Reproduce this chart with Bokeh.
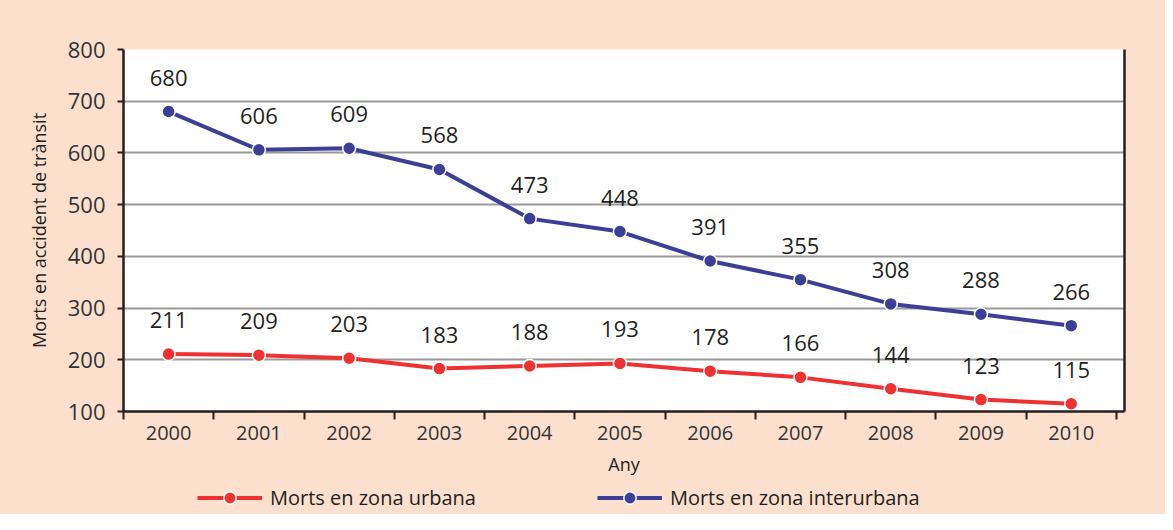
from bokeh.plotting import figure
from bokeh.layouts import column
from bokeh.models import (ColumnDataSource, FixedTicker, LinearAxis, Range1d,
                          Legend, LegendItem)
from bokeh.core.properties import value
from bokeh.embed import file_html
from bokeh.resources import INLINE

years = ["2000", "2001", "2002", "2003", "2004", "2005",
         "2006", "2007", "2008", "2009", "2010"]
urbana = [211, 209, 203, 183, 188, 193, 178, 166, 144, 123, 115]
interurbana = [680, 606, 609, 568, 473, 448, 391, 355, 308, 288, 266]
y_ticks = [100, 200, 300, 400, 500, 600, 700, 800]
series_names = ["Morts en zona urbana", "Morts en zona interurbana"]

FONT = "Open Sans"
DARK = "#231F20"
PEACH = "#FDDFCD"
RED = "#EE3131"
BLUE = "#3D3F97"

xs = list(range(len(years)))

MAIN_H = 481
p = figure(width=1165, height=MAIN_H,
           x_range=Range1d(-0.5, 10.59), y_range=Range1d(100, 800),
           output_backend="svg", toolbar_location=None,
           background_fill_color="white", border_fill_color=PEACH,
           min_border_left=123, min_border_right=41,
           min_border_top=49, min_border_bottom=MAIN_H - 411)
p.outline_line_color = None

# x axis: labels at category centres, ticks at boundaries
xa = p.xaxis[0]
xa.ticker = FixedTicker(ticks=xs, minor_ticks=[i - 0.5 for i in range(len(years) + 1)])
xa.major_label_overrides = {i: y for i, y in enumerate(years)}
xa.major_tick_in = 0
xa.major_tick_out = 0
xa.minor_tick_in = 0
xa.minor_tick_out = 8
xa.minor_tick_line_color = DARK
xa.minor_tick_line_width = 2
xa.axis_line_color = DARK
xa.axis_line_width = 2.5
xa.major_label_standoff = 6
xa.major_label_text_font = FONT
xa.major_label_text_font_size = "20px"
xa.major_label_text_color = "#333333"
xa.axis_label = "Any"
xa.axis_label_text_font = FONT
xa.axis_label_text_font_size = "18px"
xa.axis_label_text_font_style = "normal"
xa.axis_label_text_color = DARK
xa.axis_label_standoff = 9

ya = p.yaxis[0]
ya.ticker = FixedTicker(ticks=y_ticks)
ya.major_tick_in = 0
ya.major_tick_out = 6
ya.major_tick_line_color = DARK
ya.major_tick_line_width = 2
ya.minor_tick_line_color = None
ya.axis_line_color = DARK
ya.axis_line_width = 2.5
ya.major_label_standoff = 12
ya.major_label_text_font = FONT
ya.major_label_text_font_size = "22px"
ya.major_label_text_color = "#333333"
ya.axis_label = "Morts en accident de trànsit"
ya.axis_label_text_font = FONT
ya.axis_label_text_font_size = "18px"
ya.axis_label_text_font_style = "normal"
ya.axis_label_text_color = DARK
ya.axis_label_standoff = 14

right = LinearAxis(ticker=FixedTicker(ticks=[]), major_tick_line_color=None,
                   minor_tick_line_color=None, major_label_text_font_size="0px",
                   axis_line_color=DARK, axis_line_width=2.5)
p.add_layout(right, "right")

p.xgrid.visible = False
p.ygrid.ticker = FixedTicker(ticks=[200, 300, 400, 500, 600, 700])
p.ygrid.grid_line_color = "#999999"
p.ygrid.grid_line_width = 2

src_u = ColumnDataSource(dict(x=xs, y=urbana, label=[str(v) for v in urbana]))
src_i = ColumnDataSource(dict(x=xs, y=interurbana, label=[str(v) for v in interurbana]))

line_style = dict(line_width=4)
mark_style = dict(size=13, line_color="white", line_width=1.5)

p.line("x", "y", source=src_u, line_color=RED, **line_style)
p.scatter("x", "y", source=src_u, fill_color=RED, **mark_style)
p.line("x", "y", source=src_i, line_color=BLUE, **line_style)
p.scatter("x", "y", source=src_i, fill_color=BLUE, **mark_style)

for src in (src_u, src_i):
    p.text("x", "y", text="label", source=src, y_offset=-34,
           text_align="center", text_baseline="middle",
           text_font=value(FONT), text_font_size="22px", text_color=DARK)

# legend strip below the chart (its renderers fall outside its own ranges,
# so only the legend itself is visible)
LEG_H = 514 - MAIN_H
lf = figure(width=1165, height=LEG_H, x_range=Range1d(-0.5, 10.59),
            y_range=Range1d(-2, -1),
            output_backend="svg", toolbar_location=None,
            x_axis_location=None, y_axis_location=None,
            background_fill_alpha=0, border_fill_alpha=0,
            min_border=0)
lf.outline_line_color = None
lf.grid.visible = False
items = []
for name, src, col in zip(series_names, (src_u, src_i), (RED, BLUE)):
    r1 = lf.line("x", "y", source=src, line_color=col, **line_style)
    r2 = lf.scatter("x", "y", source=src, fill_color=col, **mark_style)
    items.append(LegendItem(label=name, renderers=[r1, r2]))

legend = Legend(items=items, location=(74, 1), orientation="horizontal", spacing=121,
                background_fill_alpha=0, border_line_color=None,
                padding=0, margin=0, glyph_width=65, glyph_height=31,
                label_height=31, label_standoff=8,
                label_text_font=FONT, label_text_font_size="20px",
                label_text_color=DARK)
lf.add_layout(legend, "center")

layout = column(p, lf, spacing=0, styles={"background-color": PEACH})
open("out.html", "w").write(file_html(layout, INLINE))
